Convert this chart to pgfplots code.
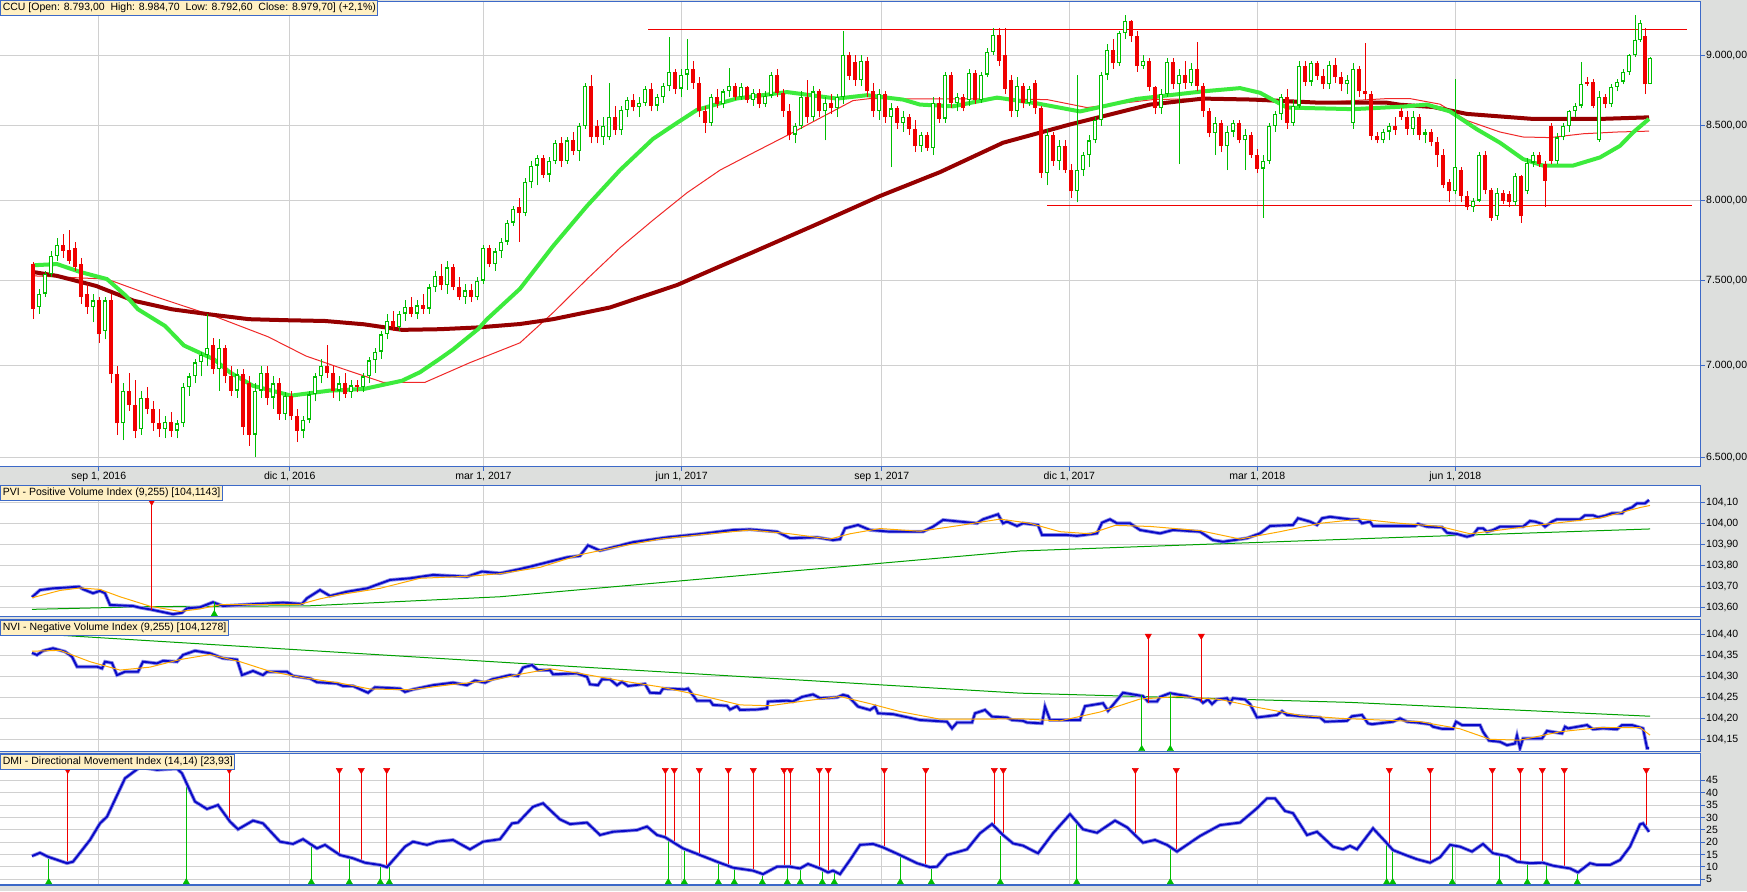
\documentclass[border=0pt]{standalone}
\usepackage{fontspec}
\setmainfont{Liberation Sans}
\usepackage{pgfplots}
\usepackage{pgfplotstable}
\pgfplotsset{compat=1.18}
\definecolor{bg}{RGB}{221,223,221}
\definecolor{bordercol}{RGB}{60,105,200}
\definecolor{gridcol}{RGB}{208,208,208}
\definecolor{cred}{RGB}{240,0,0}
\definecolor{cgreen}{RGB}{0,190,0}
\definecolor{madark}{RGB}{150,0,0}
\definecolor{magreen}{RGB}{60,235,60}
\definecolor{mared}{RGB}{240,40,40}
\definecolor{lineblue}{RGB}{10,10,200}
\definecolor{halo}{RGB}{140,140,230}
\definecolor{orangeline}{RGB}{255,170,0}
\definecolor{lgreen}{RGB}{0,160,0}
\definecolor{labfill}{RGB}{255,240,195}
\newcommand\lab{\fontsize{10.5}{12}\selectfont}

\pgfplotstableread{
x o h l c
33 7600 7610 7270 7330
39 7340 7450 7300 7420
45 7420 7560 7400 7540
51 7540 7680 7520 7650
57 7650 7760 7620 7720
63 7720 7790 7640 7680
69 7690 7815 7600 7620
75 7700 7740 7560 7580
81 7600 7640 7360 7400
87 7420 7480 7300 7340
93 7340 7420 7250 7380
99 7380 7400 7130 7180
105 7200 7400 7150 7380
111 7380 7420 6900 6950
117 6950 7000 6620 6680
123 6680 6900 6590 6860
129 6860 6960 6750 6780
135 6780 6920 6600 6640
141 6650 6860 6620 6820
147 6820 6880 6730 6760
153 6760 6800 6640 6680
159 6680 6760 6610 6650
165 6650 6720 6600 6690
171 6690 6740 6610 6640
177 6640 6700 6600 6680
183 6680 6900 6660 6880
189 6880 6960 6830 6940
195 6940 7040 6900 7020
201 7020 7080 6940 7060
207 7060 7300 7000 7100
213 7120 7160 6950 6980
219 6980 7150 6860 7100
225 7100 7120 6900 6940
231 6940 7000 6830 6860
237 6860 6980 6820 6950
243 6950 6980 6620 6660
249 6900 6940 6560 6620
255 6620 6900 6500 6860
261 6860 7000 6820 6960
267 6960 7000 6780 6820
273 6820 6940 6760 6900
279 6900 6930 6700 6730
285 6730 6850 6700 6830
291 6830 6860 6700 6720
297 6720 6760 6580 6640
303 6640 6720 6600 6700
309 6700 6860 6680 6840
315 6840 6960 6800 6940
321 6940 7040 6900 7000
327 7000 7120 6930 6960
333 6960 7000 6820 6860
339 6860 6940 6800 6900
345 6900 6960 6820 6840
351 6850 6920 6820 6890
357 6890 6920 6850 6880
363 6880 6960 6850 6940
369 6940 7050 6900 7030
375 7030 7100 6960 7080
381 7080 7200 7040 7180
387 7180 7300 7150 7260
393 7260 7320 7200 7220
399 7220 7320 7200 7300
405 7300 7380 7260 7340
411 7340 7400 7280 7300
417 7300 7380 7270 7350
423 7350 7420 7300 7330
429 7330 7480 7300 7460
435 7460 7560 7430 7530
441 7530 7600 7440 7470
447 7470 7620 7420 7580
453 7580 7600 7440 7460
459 7460 7520 7380 7400
465 7400 7480 7360 7440
471 7440 7480 7370 7400
477 7400 7520 7380 7500
483 7500 7720 7480 7700
489 7700 7720 7580 7600
495 7600 7700 7560 7680
501 7680 7760 7640 7740
507 7740 7880 7720 7860
513 7860 7970 7840 7950
519 7960 8020 7740 7920
525 7920 8150 7900 8120
531 8120 8260 8080 8230
537 8230 8300 8100 8280
543 8280 8300 8150 8170
549 8170 8290 8120 8260
555 8260 8400 8240 8380
561 8380 8420 8220 8260
567 8260 8420 8240 8400
573 8400 8460 8300 8330
579 8330 8520 8260 8500
585 8500 8800 8480 8780
591 8780 8860 8380 8420
597 8500 8540 8380 8420
603 8420 8560 8370 8500
609 8420 8800 8400 8560
615 8560 8640 8440 8470
621 8470 8640 8440 8610
627 8610 8700 8560 8680
633 8680 8720 8600 8630
639 8630 8700 8560 8660
645 8660 8780 8640 8760
651 8760 8800 8600 8640
657 8640 8720 8600 8700
663 8700 8800 8660 8780
669 8780 9130 8740 8880
675 8880 8900 8720 8760
681 8760 8900 8700 8860
687 8860 9120 8750 8900
693 8900 8960 8760 8800
699 8800 8840 8560 8600
705 8600 8640 8450 8520
711 8520 8720 8500 8700
717 8700 8760 8620 8650
723 8650 8760 8620 8740
729 8740 8910 8700 8780
735 8780 8800 8680 8700
741 8700 8800 8680 8770
747 8770 8780 8660 8680
753 8680 8760 8640 8730
759 8730 8760 8620 8650
765 8650 8740 8630 8710
771 8710 8880 8690 8860
777 8860 8900 8700 8730
783 8730 8760 8560 8600
789 8600 8650 8400 8440
795 8440 8520 8380 8500
801 8500 8740 8480 8700
807 8700 8820 8520 8560
813 8560 8780 8530 8740
819 8740 8760 8560 8600
825 8600 8700 8400 8660
831 8660 8720 8580 8620
837 8620 8720 8560 8700
843 8700 9180 8650 9000
849 9000 9020 8820 8850
855 8950 9000 8780 8820
861 8820 9000 8780 8960
867 8960 8990 8700 8740
873 8740 8800 8560 8600
879 8600 8760 8540 8720
885 8720 8740 8520 8560
891 8560 8660 8220 8620
897 8620 8640 8480 8520
903 8520 8600 8460 8560
909 8560 8580 8440 8480
915 8480 8540 8320 8360
921 8360 8460 8320 8440
927 8440 8460 8330 8350
933 8350 8700 8300 8660
939 8660 8700 8520 8550
945 8550 8880 8520 8860
951 8860 8880 8620 8660
957 8660 8730 8600 8700
963 8700 8720 8600 8620
969 8680 8900 8640 8870
975 8870 8890 8650 8680
981 8680 8880 8660 8860
987 8860 9050 8840 9020
993 9020 9200 9000 9150
999 9150 9200 8920 8960
1005 9000 9200 8720 8760
1011 8820 8860 8560 8600
1017 8600 8840 8560 8780
1023 8780 8800 8620 8660
1029 8660 8780 8640 8760
1035 8800 8820 8580 8620
1041 8620 8640 8150 8180
1047 8180 8480 8100 8440
1053 8440 8460 8230 8260
1059 8260 8400 8200 8360
1065 8360 8400 8180 8200
1071 8200 8240 8020 8060
1077 8060 8860 7990 8200
1083 8200 8320 8160 8300
1089 8300 8440 8220 8400
1095 8400 8560 8380 8540
1101 8540 8880 8500 8860
1107 8860 9080 8820 9040
1113 9040 9120 8900 8940
1119 8940 9180 8920 9160
1125 9160 9300 9120 9250
1131 9250 9260 9100 9140
1137 9140 9180 8880 8920
1143 8920 9000 8900 8960
1149 8960 8980 8740 8770
1155 8770 8780 8580 8620
1161 8620 8760 8580 8720
1167 8720 8980 8700 8950
1173 8950 8980 8760 8790
1179 8790 8900 8240 8860
1185 8860 8960 8760 8800
1191 8800 8940 8780 8900
1197 8900 9100 8740 8780
1203 8780 8800 8560 8600
1209 8600 8620 8420 8450
1215 8450 8560 8300 8520
1221 8520 8540 8320 8360
1227 8360 8500 8200 8460
1233 8460 8540 8420 8520
1239 8520 8540 8380 8400
1245 8400 8480 8200 8440
1251 8440 8460 8280 8300
1257 8300 8340 8180 8210
1263 8210 8300 7890 8260
1269 8260 8520 8240 8500
1275 8500 8600 8460 8580
1281 8580 8720 8540 8700
1287 8700 8760 8480 8520
1293 8520 8680 8500 8640
1299 8640 8960 8620 8920
1305 8920 8960 8780 8810
1311 8810 8960 8780 8940
1317 8940 8960 8820 8850
1323 8850 8900 8760 8790
1329 8790 8960 8760 8930
1335 8930 8980 8800 8840
1341 8840 8880 8740 8790
1347 8790 8860 8720 8820
1353 8520 8940 8480 8900
1359 8900 8920 8700 8740
1365 8740 9090 8680 8720
1371 8720 8740 8400 8430
1377 8430 8460 8380 8400
1383 8400 8480 8380 8460
1389 8460 8520 8400 8500
1395 8500 8560 8440 8470
1401 8600 8620 8540 8560
1407 8560 8600 8440 8480
1413 8480 8600 8440 8560
1419 8560 8580 8400 8440
1425 8440 8480 8380 8460
1431 8460 8480 8360 8390
1437 8390 8420 8220 8300
1443 8300 8340 8080 8100
1449 8120 8140 7990 8060
1455 8060 8830 8040 8220
1461 8200 8220 7990 8030
1467 8030 8060 7940 7960
1473 7960 8020 7930 8000
1479 8000 8320 7990 8300
1485 8300 8330 8040 8070
1491 8070 8080 7870 7890
1497 7900 8080 7880 8050
1503 8050 8070 7980 8000
1509 8040 8060 7960 7990
1515 7990 8180 7970 8160
1521 8160 8170 7860 7900
1527 8060 8280 8040 8250
1533 8250 8320 8220 8300
1539 8300 8320 8220 8240
1545 8240 8260 7960 8130
1551 8500 8520 8240 8260
1557 8260 8450 8240 8420
1563 8420 8520 8400 8500
1569 8500 8610 8460 8600
1575 8600 8660 8560 8640
1581 8640 8950 8620 8790
1587 8810 8840 8780 8790
1593 8810 8830 8620 8640
1599 8400 8740 8390 8700
1605 8700 8720 8620 8650
1611 8650 8790 8630 8770
1617 8770 8830 8740 8810
1623 8810 8900 8790 8880
1629 8880 9010 8860 9000
1635 9000 9300 8990 9110
1640 9110 9260 9100 9240
1645 9140 9200 8720 8790
1650 8793 8985 8792 8980
}\candles

\pgfplotstableread{
x v
32.5 7552
57 7528
96 7467
134 7377
172 7327
210 7297
249 7268
287 7262
325 7258
364 7239
402 7206
440 7210
478 7220
520 7240
553 7268
610 7338
677 7472
720 7586
753 7674
813 7839
880 8030
940 8187
1003 8384
1070 8509
1150 8647
1203 8689
1253 8682
1320 8660
1387 8660
1400 8646
1433 8630
1467 8582
1533 8547
1600 8547
1649 8558
}\darkma

\pgfplotstableread{
x v
34.4 7593
57 7600
80 7552
107 7508
126 7407
138 7327
165 7229
184 7115
214 7036
230 6962
253 6887
291 6832
329 6860
364 6869
402 6915
420 6963
440 7040
453 7092
478 7210
487 7268
520 7450
553 7711
587 7966
620 8200
653 8410
677 8520
697 8610
737 8690
787 8735
837 8689
867 8713
903 8682
920 8647
953 8635
997 8696
1037 8655
1080 8599
1137 8687
1203 8740
1240 8763
1260 8730
1287 8626
1353 8615
1403 8633
1427 8647
1450 8599
1477 8475
1500 8384
1523 8274
1543 8230
1573 8230
1600 8285
1620 8363
1633 8454
1649 8547
}\greenma

\pgfplotstableread{
x v
34 7528
107 7508
153 7407
214 7287
268 7166
306 7055
344 6980
383 6906
425 6906
470 7017
520 7131
553 7307
587 7508
620 7701
653 7876
687 8051
720 8200
753 8315
787 8433
820 8553
853 8675
870 8689
940 8687
987 8687
1047 8682
1087 8626
1120 8655
1153 8682
1203 8689
1253 8675
1303 8655
1353 8675
1387 8689
1410 8689
1440 8650
1467 8536
1500 8457
1523 8423
1550 8419
1583 8445
1617 8457
1649 8463
}\redma

\pgfplotstableread{
x v
32 103.648
40 103.682
53 103.690
79 103.698
83 103.686
93 103.667
100 103.678
105 103.667
110 103.611
133 103.606
140 103.598
150 103.590
173 103.567
182 103.574
187 103.595
200 103.600
213 103.624
223 103.606
250 103.614
283 103.622
302 103.616
307 103.643
320 103.682
330 103.654
347 103.674
367 103.690
390 103.730
410 103.738
433 103.754
467 103.746
482 103.770
500 103.762
520 103.782
533 103.797
567 103.838
580 103.845
588 103.895
600 103.870
633 103.910
667 103.933
700 103.949
733 103.968
750 103.971
777 103.960
790 103.929
817 103.933
833 103.920
840 103.924
845 103.976
858 103.992
870 103.968
890 103.960
923 103.960
933 103.984
943 104.016
977 104.000
983 104.019
998 104.043
1003 104.000
1007 104.008
1017 103.987
1023 104.000
1038 103.992
1042 103.944
1067 103.944
1077 103.940
1097 103.952
1102 104.003
1110 104.019
1117 104.000
1130 104.000
1140 103.968
1160 103.952
1173 103.968
1200 103.960
1213 103.920
1223 103.912
1247 103.929
1260 103.952
1270 103.987
1293 103.992
1298 104.024
1310 104.008
1317 103.992
1322 104.024
1330 104.031
1350 104.019
1358 104.019
1362 104.000
1370 104.008
1373 103.987
1415 103.987
1418 103.997
1427 103.984
1442 103.981
1447 103.955
1457 103.949
1467 103.936
1473 103.944
1478 103.976
1483 103.976
1487 103.960
1493 103.968
1500 103.984
1523 103.984
1530 104.011
1535 104.008
1542 103.997
1545 103.984
1552 104.008
1557 104.019
1580 104.019
1585 104.038
1593 104.038
1598 104.029
1605 104.036
1612 104.048
1622 104.048
1625 104.063
1632 104.076
1637 104.095
1645 104.095
1649 104.111
}\pvi

\pgfplotstableread{
x v
32 103.645
60 103.680
80 103.692
100 103.685
120 103.650
150 103.605
180 103.580
200 103.592
220 103.612
260 103.613
300 103.614
320 103.640
340 103.660
380 103.690
420 103.738
470 103.748
500 103.760
540 103.790
580 103.850
620 103.890
660 103.925
700 103.945
750 103.968
790 103.950
830 103.925
850 103.950
880 103.975
920 103.962
960 103.990
1000 104.020
1030 104.000
1060 103.960
1090 103.950
1115 103.990
1150 103.985
1200 103.965
1240 103.925
1280 103.960
1320 104.000
1360 104.020
1400 104.000
1440 103.985
1470 103.950
1500 103.968
1550 103.998
1600 104.025
1640 104.075
1650 104.085
}\pviorange

\pgfplotstableread{
x v
32 103.590
150 103.603
310 103.607
500 103.650
760 103.759
1020 103.868
1200 103.899
1400 103.933
1650 103.973
}\pvilong

\pgfplotstableread{
x v
32 104.356
37 104.351
43 104.361
53 104.367
65 104.359
72 104.347
77 104.323
97 104.323
102 104.319
105 104.335
112 104.332
117 104.303
125 104.311
138 104.311
143 104.335
157 104.331
163 104.337
177 104.335
183 104.351
195 104.361
210 104.355
223 104.343
237 104.340
242 104.303
253 104.313
263 104.303
267 104.311
287 104.311
293 104.301
310 104.295
317 104.286
337 104.283
343 104.277
353 104.277
368 104.261
375 104.274
400 104.271
405 104.263
413 104.269
433 104.279
453 104.285
467 104.279
475 104.290
485 104.285
492 104.293
510 104.303
518 104.301
523 104.321
532 104.327
538 104.315
550 104.315
553 104.305
577 104.307
587 104.299
590 104.281
598 104.279
602 104.293
610 104.293
617 104.279
622 104.287
628 104.277
645 104.282
650 104.261
660 104.260
663 104.271
685 104.269
688 104.271
697 104.242
710 104.242
713 104.232
727 104.230
730 104.221
737 104.229
740 104.220
757 104.221
767 104.224
768 104.240
787 104.242
793 104.240
802 104.251
813 104.257
820 104.248
837 104.250
843 104.256
848 104.253
858 104.228
870 104.220
875 104.228
878 104.212
893 104.210
920 104.196
947 104.192
952 104.176
957 104.190
972 104.190
975 104.212
985 104.220
992 104.204
1007 104.202
1012 104.196
1023 104.194
1027 104.190
1042 104.188
1045 104.228
1050 104.196
1080 104.196
1085 104.229
1103 104.236
1108 104.218
1113 104.232
1123 104.261
1143 104.253
1148 104.240
1157 104.240
1160 104.251
1170 104.260
1187 104.253
1200 104.244
1203 104.237
1208 104.245
1212 104.234
1217 104.245
1227 104.248
1230 104.237
1233 104.248
1245 104.245
1250 104.234
1257 104.202
1277 104.208
1282 104.217
1287 104.208
1307 104.204
1320 104.202
1325 104.192
1347 104.194
1352 104.205
1362 104.208
1368 104.188
1372 104.186
1393 104.192
1400 104.200
1407 104.192
1417 104.190
1430 104.186
1433 104.180
1442 104.175
1453 104.175
1456 104.192
1462 104.184
1480 104.184
1483 104.168
1489 104.147
1500 104.144
1507 104.136
1515 104.140
1517 104.159
1520 104.129
1523 104.152
1542 104.152
1547 104.170
1562 104.164
1565 104.180
1568 104.176
1587 104.184
1593 104.174
1603 104.176
1617 104.174
1622 104.184
1632 104.184
1643 104.176
1647 104.129
1649 104.129
}\nvi

\pgfplotstableread{
x v
32 104.360
60 104.362
90 104.335
120 104.315
150 104.322
180 104.340
210 104.352
240 104.335
270 104.312
300 104.298
340 104.284
370 104.270
410 104.268
450 104.280
490 104.290
520 104.305
550 104.318
580 104.307
620 104.290
660 104.275
700 104.255
740 104.232
770 104.230
800 104.240
840 104.252
870 104.235
900 104.216
940 104.198
980 104.198
1020 104.199
1060 104.194
1100 104.215
1140 104.246
1180 104.252
1220 104.245
1260 104.225
1300 104.207
1340 104.200
1380 104.196
1420 104.192
1460 104.175
1490 104.150
1520 104.148
1560 104.168
1600 104.178
1640 104.178
1650 104.160
}\nviorange

\pgfplotstableread{
x v
32 104.402
520 104.331
1020 104.260
1350 104.238
1650 104.205
}\nvilong

\pgfplotstableread{
x v
32 14.4
40 15.7
48 14.1
67 11.5
73 12.1
90 20.9
100 27.6
107 30.3
125 45.8
140 50.3
157 49.2
177 49.7
182 47.8
195 36.4
207 33.4
218 35.0
230 28.3
238 25.2
253 28.7
263 27.6
280 20.2
293 19.3
303 21.2
317 17.5
325 18.9
340 14.8
353 13.5
365 11.7
380 10.8
387 9.9
405 18.2
413 20.2
427 18.9
437 20.2
453 20.9
470 17.1
483 20.2
500 21.2
512 27.6
518 27.9
533 34.3
543 35.7
560 29.2
570 27.3
587 27.9
600 22.9
613 24.2
637 24.9
647 26.3
657 22.9
665 22.0
683 17.5
700 14.8
717 12.1
733 9.7
753 8.5
763 7.1
777 10.1
790 10.1
800 9.4
808 11.2
820 9.4
828 7.8
833 8.5
840 7.1
850 12.8
860 18.9
873 19.3
883 17.9
900 14.8
917 11.5
930 9.9
937 10.1
947 14.8
967 17.1
980 23.6
992 27.3
1003 22.9
1013 19.5
1023 18.6
1038 15.5
1053 23.6
1070 31.3
1083 25.2
1097 23.8
1115 28.7
1127 26.0
1143 19.8
1155 20.9
1167 18.9
1177 16.2
1200 22.5
1220 26.9
1240 27.9
1257 33.7
1267 37.7
1275 37.7
1285 32.6
1293 31.7
1307 22.9
1317 24.2
1333 18.2
1343 17.1
1350 18.5
1357 17.1
1373 25.6
1387 19.5
1393 16.8
1403 15.2
1417 13.1
1430 11.7
1440 13.9
1450 18.9
1460 18.2
1472 16.2
1483 19.3
1493 15.5
1507 14.4
1517 12.1
1530 11.5
1543 11.7
1553 10.5
1570 9.4
1578 7.8
1590 11.5
1597 10.8
1610 10.8
1620 12.8
1630 18.2
1640 27.2
1643 27.6
1649 24.2
}\dmi

\pgfplotstableread{
x v
67.7 11.5
229.3 28.4
339.3 15.0
361.3 12.6
386.7 10.0
665.3 22.0
674.3 19.5
699.3 14.8
728.3 10.4
753.3 8.5
784 10.1
790.3 10.0
819.3 9.4
828.3 8.0
884.3 17.5
925.7 10.1
994.3 26.3
1003.3 22.5
1135.3 21.6
1176.3 16.2
1389.3 18.9
1430.3 11.7
1492.3 15.7
1520.3 11.9
1542.3 11.7
1564.3 9.9
1646.3 26.0
}\dmired

\pgfplotstableread{
x v
48.7 14.3
186.3 44.5
311.3 18.6
349.3 13.7
380.3 10.8
389.3 9.8
668.3 20.9
684.3 17.2
718.3 11.6
734.3 9.7
762.3 7.3
787.3 10.1
800.3 9.4
822.3 8.8
834.3 8.2
900.3 15.0
931.3 10.0
1000.3 22.5
1076.7 29.2
1170.3 18.2
1386.7 19.5
1392.7 17.3
1452.3 18.9
1499.3 14.8
1527.3 11.5
1546.7 11.6
1577.3 8.1
}\dmigreen

\pgfplotsset{
  panel/.style={
    scale only axis, anchor=south west, width=1702.5pt,
    xmin=-2, xmax=1700.5,
    axis line style={draw=bordercol, line width=1.3pt},
    xtick={98.7,289.7,483.4,681.7,881.7,1069.3,1257.3,1455.3},
    grid=major, major grid style={draw=gridcol, line width=0.9pt},
    ytick pos=right, yticklabel pos=right, xtick pos=left,
    tick align=outside, major tick length=4pt,
    tick style={draw=bordercol, line width=0.9pt},
    tick label style={font=\lab, text=black},
    yticklabel style={anchor=west, inner sep=0pt, xshift=1.5pt},
    axis background/.style={fill=white},
    clip=true,
  },
  sub/.style={panel, xticklabels={}, xtick style={draw=none}},
  bar/.style={draw=none, mark=none, forget plot, error bars/.cd, y dir=plus, y explicit, error mark=none, error bar style={draw=#1, line width=1pt}},
  fatbar/.style n args={2}{draw=none, mark=none, forget plot, error bars/.cd, y dir=plus, y explicit, error mark=none, error bar style={draw=#1, line width=#2}},
  sigtri/.style={only marks, mark=triangle*, mark size=3.6pt, forget plot},
}

\begin{document}
\begin{tikzpicture}[x=1pt,y=1pt]
\useasboundingbox (0,0) rectangle (1747,891);
\fill[bg] (0,0) rectangle (1747,891);

% ---------------- main price panel
\begin{axis}[panel, at={(-2pt,424.3pt)}, height=465.2pt,
  ymode=log, ymin=6450.7, ymax=9400.6,
  ytick={6500,7000,7500,8000,8500,9000},
  yticklabels={{6.500,00},{7.000,00},{7.500,00},{8.000,00},{8.500,00},{9.000,00}},
  minor y tick num=0,
  xticklabels={{sep 1, 2016},{dic 1, 2016},{mar 1, 2017},{jun 1, 2017},{sep 1, 2017},{dic 1, 2017},{mar 1, 2018},{jun 1, 2018}},
  xticklabel style={anchor=north, inner sep=0pt, yshift=-1.5pt},
]
\addplot[mared, line width=1pt] table[x=x,y=v] {\redma};
\addplot[madark, line width=4pt] table[x=x,y=v] {\darkma};
\addplot[magreen, line width=4pt] table[x=x,y=v] {\greenma};
\addplot[cred, line width=1.2pt] coordinates {(648,9191) (1686.7,9191)};
\addplot[cred, line width=1.2pt] coordinates {(1047.3,7968) (1691.7,7968)};
% wicks
\addplot[bar=cred] table[x=x, y=l, y error expr=\thisrow{h}-\thisrow{l},
  restrict expr to domain={\thisrow{c}-\thisrow{o}}{-100000:-0.5}] {\candles};
\addplot[bar=cgreen] table[x=x, y=l, y error expr=\thisrow{h}-\thisrow{l},
  restrict expr to domain={\thisrow{c}-\thisrow{o}}{0:100000}] {\candles};
% red bodies
\addplot[fatbar={cred}{3.4pt}] table[x=x, y=c, y error expr=\thisrow{o}-\thisrow{c},
  restrict expr to domain={\thisrow{c}-\thisrow{o}}{-100000:-0.5}] {\candles};
% green bodies (hollow)
\addplot[fatbar={cgreen}{3.6pt}] table[x=x, y=o, y error expr=\thisrow{c}-\thisrow{o},
  restrict expr to domain={\thisrow{c}-\thisrow{o}}{0:100000}] {\candles};
\addplot[fatbar={white}{1.4pt}] table[x=x, y expr=\thisrow{o}+8, y error expr=\thisrow{c}-\thisrow{o}-16,
  restrict expr to domain={\thisrow{c}-\thisrow{o}}{30:100000}] {\candles};
\end{axis}

% ---------------- PVI
\begin{axis}[sub, at={(-2pt,274.3pt)}, height=131.4pt,
  ymin=103.555, ymax=104.181,
  ytick={103.6,103.7,103.8,103.9,104.0,104.1},
  yticklabels={{103,60},{103,70},{103,80},{103,90},{104,00},{104,10}},
]
\addplot[lgreen, line width=1pt] table[x=x,y=v] {\pvilong};
\addplot[halo, line width=3.6pt] table[x=x,y=v] {\pvi};
\addplot[lineblue, line width=1.9pt] table[x=x,y=v] {\pvi};
\addplot[orangeline, line width=1pt] table[x=x,y=v] {\pviorange};
\addplot[bar=cred] coordinates {(151.7,103.589) +- (0,0.505)};
\addplot[bar=cgreen] coordinates {(214.3,103.570) +- (0,0.054)};
\addplot[sigtri, mark options={rotate=180, fill=cred, draw=cred}] coordinates {(151.7,104.1024)};
\addplot[sigtri, mark options={fill=cgreen, draw=cgreen}] coordinates {(214.3,103.568)};
\end{axis}

% ---------------- NVI
\begin{axis}[sub, at={(-2pt,139.3pt)}, height=132.4pt,
  ymin=104.1205, ymax=104.436,
  ytick={104.15,104.20,104.25,104.30,104.35,104.40},
  yticklabels={{104,15},{104,20},{104,25},{104,30},{104,35},{104,40}},
]
\addplot[lgreen, line width=1pt] table[x=x,y=v] {\nvilong};
\addplot[halo, line width=3.6pt] table[x=x,y=v] {\nvi};
\addplot[lineblue, line width=1.9pt] table[x=x,y=v] {\nvi};
\addplot[orangeline, line width=1pt] table[x=x,y=v] {\nviorange};
\addplot[bar=cred] coordinates {(1148.3,104.237) +- (0,0.157) (1201.3,104.240) +- (0,0.154)};
\addplot[bar=cgreen] coordinates {(1141.7,104.128) +- (0,0.127) (1170.3,104.128) +- (0,0.133)};
\addplot[sigtri, mark options={rotate=180, fill=cred, draw=cred}] coordinates {(1148.3,104.3964) (1201.3,104.3964)};
\addplot[sigtri, mark options={fill=cgreen, draw=cgreen}] coordinates {(1141.7,104.1271) (1170.3,104.1271)};
\end{axis}

% ---------------- DMI
\begin{axis}[sub, at={(-2pt,6pt)}, height=131.7pt,
  ymin=2.7, ymax=55.9,
  ytick={5,10,15,20,25,30,35,40,45},
  yticklabels={5,10,15,20,25,30,35,40,45},
]
\addplot[bar=cred] table[x=x, y=v, y error expr=48.3-\thisrow{v}] {\dmired};
\addplot[bar=cgreen] table[x=x, y expr=4.0, y error expr=\thisrow{v}-4.0] {\dmigreen};
\addplot[halo, line width=3.6pt] table[x=x,y=v] {\dmi};
\addplot[lineblue, line width=1.9pt] table[x=x,y=v] {\dmi};
\addplot[sigtri, mark options={rotate=180, fill=cred, draw=cred}] table[x=x, y expr=49.1] {\dmired};
\addplot[sigtri, mark options={fill=cgreen, draw=cgreen}] table[x=x, y expr=3.9] {\dmigreen};
\end{axis}

% ---------------- panel captions
\node[anchor=north west, draw=bordercol, fill=labfill, line width=0.8pt, inner xsep=2pt, inner ysep=0pt, text height=8.5pt, text depth=3pt, minimum height=14.5pt, font=\lab] at (0.4,890.6) {CCU [Open: 8.793,00\ \ High: 8.984,70\ \ Low: 8.792,60\ \ Close: 8.979,70] (+2,1\%)};
\node[anchor=north west, draw=bordercol, fill=labfill, line width=0.8pt, inner xsep=2pt, inner ysep=0pt, text height=8.5pt, text depth=3pt, minimum height=14.5pt, font=\lab] at (0.4,405.7) {PVI - Positive Volume Index (9,255) [104,1143]};
\node[anchor=north west, draw=bordercol, fill=labfill, line width=0.8pt, inner xsep=2pt, inner ysep=0pt, text height=8.5pt, text depth=3pt, minimum height=14.5pt, font=\lab] at (0.4,270.7) {NVI - Negative Volume Index (9,255) [104,1278]};
\node[anchor=north west, draw=bordercol, fill=labfill, line width=0.8pt, inner xsep=2pt, inner ysep=0pt, text height=8.5pt, text depth=3pt, minimum height=14.5pt, font=\lab] at (0.4,136.7) {DMI - Directional Movement Index (14,14) [23,93]};
\end{tikzpicture}
\end{document}
